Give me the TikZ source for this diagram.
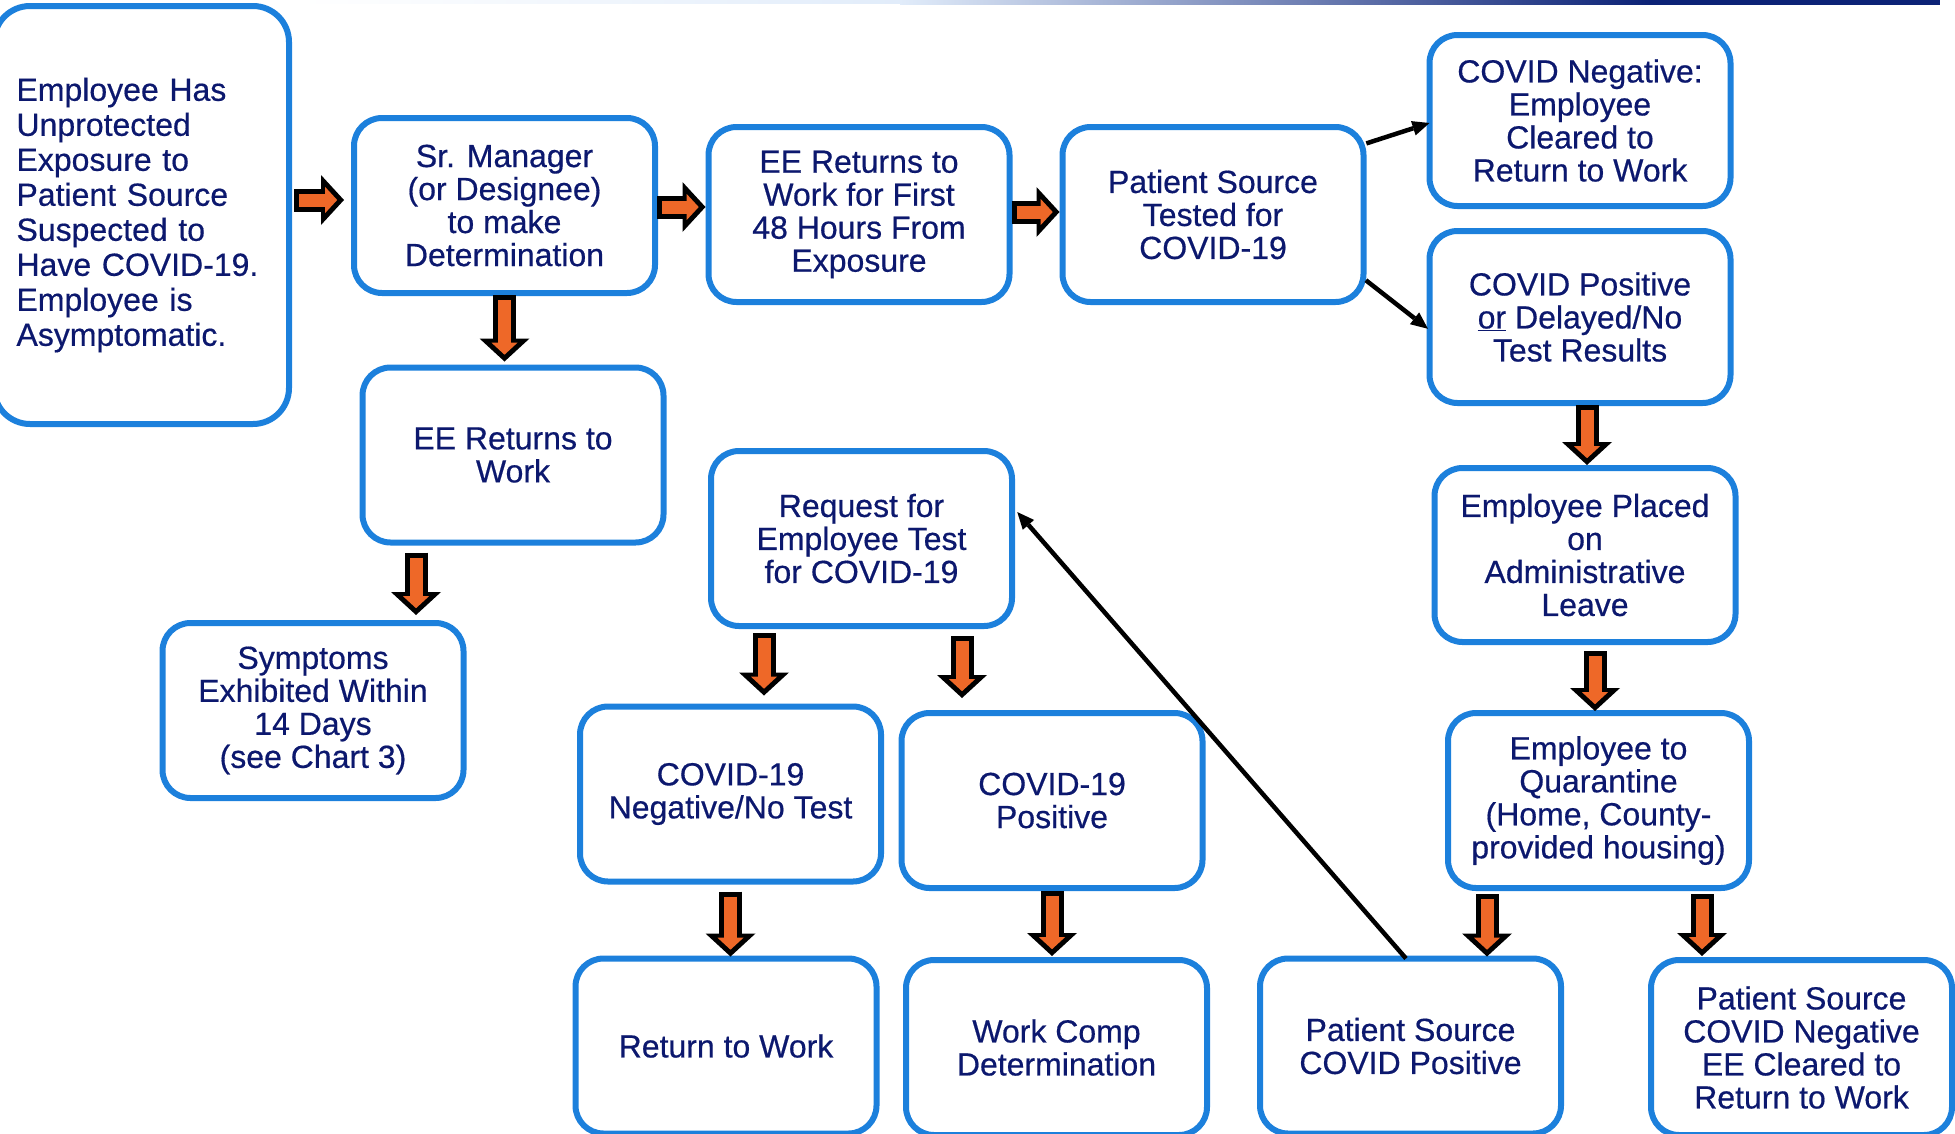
\documentclass[tikz,border=0pt]{standalone}
\usepackage{fontspec}
\setmainfont{Liberation Sans}
\newfontfamily\boxfont{Liberation Sans}[FakeBold=0.5]
\usetikzlibrary{arrows.meta, calc}

\definecolor{boxblue}{RGB}{28,128,220}
\definecolor{textnavy}{RGB}{12,24,110}
\definecolor{arrorange}{RGB}{238,104,40}
\definecolor{rulenavy}{RGB}{12,34,118}
\definecolor{rulelight}{RGB}{225,236,250}

\tikzset{
  box/.style={rectangle, draw=boxblue, line width=6pt, rounded corners=28pt, fill=white,
    text=textnavy, align=center, minimum width=301pt, minimum height=175pt,
    inner sep=0pt, outer sep=0pt, font=\boxfont\fontsize{32}{33}\selectfont},
  fatout/.style={draw=black, line width=23pt, -{Triangle[length=23pt,width=50pt,line width=0pt]}},
  fatin/.style={draw=arrorange, line width=13pt, -{Triangle[length=12pt,width=26pt,line width=0pt]}},
  thinarr/.style={draw=black, line width=4.5pt, -{Triangle[length=17pt,width=15pt,line width=0pt]}}
}

% block arrow: start, end, gap at start, gap at end
\newcommand{\fatarrow}[4]{%
  \draw[fatout, shorten <=#3pt, shorten >=#4pt] (#1) -- (#2);
  \draw[fatin, shorten <={#3pt+5pt}, shorten >={#4pt+6.8pt}] (#1) -- (#2);
}

\begin{document}
\begin{tikzpicture}[x=1pt, y=-1pt]
  \useasboundingbox (0,0) rectangle (1955,1133);

  % rule at the top
  \shade[left color=white, right color=rulelight] (300,0) rectangle (900,3);
  \shade[left color=rulelight, right color=rulenavy] (900,0) rectangle (1650,4);
  \fill[rulenavy] (1650,0) rectangle (1940,5);

  % boxes
  \node[box, align=left, text width=250pt, minimum width=295pt, minimum height=418pt,
    rounded corners=36pt, font=\boxfont\fontsize{32}{35}\selectfont] (A) at (141.5,215)
    {Employee Has\\Unprotected\\Exposure to\\Patient Source\\Suspected to\\Have COVID-19.\\Employee is\\Asymptomatic.};
  \node[box] (M) at (504.5,205.5) {Sr. Manager\\(or Designee)\\to make\\Determination};
  \node[box] (E48) at (859,214.5) {EE Returns to\\Work for First\\48 Hours From\\Exposure};
  \node[box] (PST) at (1213,214.5) {Patient Source\\Tested for\\COVID-19};
  \node[box, minimum height=171pt] (CNeg) at (1580,120.5) {COVID Negative:\\Employee\\Cleared to\\Return to Work};
  \node[box, minimum height=172pt] (CPos) at (1580,317) {COVID Positive\\\underline{or} Delayed/No\\Test Results};
  \node[box, minimum height=174pt] (Admin) at (1585,555) {Employee Placed\\on\\Administrative\\Leave};
  \node[box] (Quar) at (1598.5,800.5) {Employee to\\Quarantine\\(Home, County-\\provided housing)};
  \node[box] (PSNeg) at (1801.5,1047.5) {Patient Source\\COVID Negative\\EE Cleared to\\Return to Work};
  \node[box] (PSPos) at (1410.5,1046) {Patient Source\\COVID Positive};
  \node[box] (WC) at (1056.5,1047.5) {Work Comp\\Determination};
  \node[box] (RTW) at (726,1046) {Return to Work};
  \node[box] (Neg19) at (730.5,794) {COVID-19\\Negative/No Test};
  \node[box] (Pos19) at (1052,800.5) {COVID-19\\Positive};
  \node[box] (Req) at (861.5,538.5) {Request for\\Employee Test\\for COVID-19};
  \node[box] (EEret) at (513,455) {EE Returns to\\Work};
  \node[box] (Symp) at (313,710.5) {Symptoms\\Exhibited Within\\14 Days\\(see Chart 3)};

  % arrow ends
  \coordinate (am) at ($(A.east)+(0,-15)$);
  \coordinate (ma) at ($(M.west)+(0,-5.5)$);
  \coordinate (me) at ($(M.east)+(0,1.5)$);
  \coordinate (em) at ($(E48.west)+(0,-7.5)$);
  \coordinate (ep) at ($(E48.east)+(0,-2.5)$);
  \coordinate (pe) at ($(PST.west)+(0,-2.5)$);
  \coordinate (es) at ($(EEret.south)+(-97,0)$);
  \coordinate (rn) at ($(Req.south)+(-97.5,0)$);
  \coordinate (rp) at ($(Req.south)+(100.5,0)$);
  \coordinate (ca) at ($(CPos.south)+(7,0)$);
  \coordinate (aq) at ($(Admin.south)+(10,0)$);
  \coordinate (qp) at ($(Quar.south)+(-111.5,0)$);
  \coordinate (qn) at ($(Quar.south)+(103.5,0)$);

  % block arrows
  \fatarrow{am}{ma}{5}{10}
  \fatarrow{me}{em}{2}{3}
  \fatarrow{ep}{pe}{2}{3}
  \fatarrow{M.south}{M.south |- EEret.north}{2}{6}
  \fatarrow{es}{es |- Symp.north}{10}{8}
  \fatarrow{rn}{rn |- Neg19.north}{7}{11}
  \fatarrow{rp}{rp |- Pos19.north}{10}{15}
  \fatarrow{Neg19.south}{Neg19.south |- RTW.north}{10}{2}
  \fatarrow{Pos19.south}{Pos19.south |- WC.north}{3}{4}
  \fatarrow{ca}{ca |- Admin.north}{2}{3}
  \fatarrow{aq}{aq |- Quar.north}{9}{2}
  \fatarrow{qp}{qp |- PSPos.north}{6}{2}
  \fatarrow{qn}{qn |- PSNeg.north}{6}{4}

  % thin arrows
  \draw[thinarr, shorten <=3pt] (PST.25) -- ([yshift=-2.5pt]CNeg.west);
  \draw[thinarr, shorten <=3pt, shorten >=2pt] (PST.-23) -- ([yshift=-13pt]CPos.west);
  \draw[thinarr, shorten >=8pt] ([xshift=-4.5pt]PSPos.north) -- ([yshift=32.5pt]Req.east);
\end{tikzpicture}
\end{document}
